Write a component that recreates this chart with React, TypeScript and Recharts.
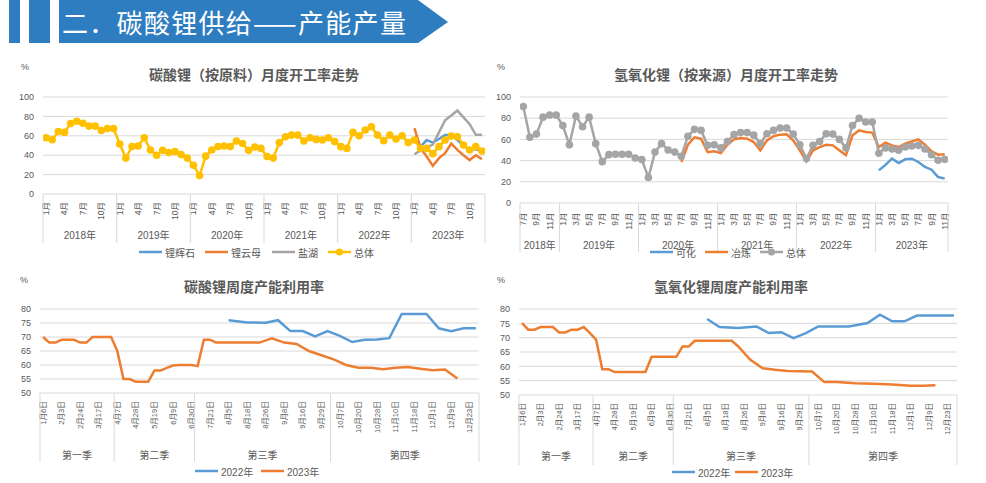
import React from 'react';
import { LineChart, Line, XAxis, YAxis, CartesianGrid } from 'recharts';

const _ = null;
const FONT = "'Liberation Sans', 'Noto Sans CJK SC', sans-serif";
const TXT = '#595959';
const GRID = '#D9D9D9';
const BLUE = '#5B9BD5';
const ORANGE = '#ED7D31';
const GRAY = '#A5A5A5';
const YELLOW = '#FFC000';

// ---------- 碳酸锂（按原料）月度开工率走势, 2018-01 .. 2023-12
const C1_YEARS = ['2018年', '2019年', '2020年', '2021年', '2022年', '2023年'];
const C1_YEAR_MONTHS = [12, 12, 12, 12, 12, 12];
const C1_MONTH_LABELS = ['1月', '4月', '7月', '10月'];
const C1_SERIES = ['锂辉石', '锂云母', '盐湖', '总体'];
const C1_TOTAL = [
  58, 56, 64.5, 63.5, 72.7, 75, 73, 70, 70, 65.5, 67.5, 67.5,
  51.5, 37, 49, 49.5, 58, 45.4, 40, 45, 42.7, 43.7, 40.6, 37,
  29.7, 19, 39, 45.4, 49, 49.5, 49, 54.6, 52, 45, 48.5, 47,
  38.6, 37, 53, 59, 60.7, 60.7, 54.6, 58, 56.3, 55.6, 58, 54,
  48.8, 47, 63.5, 60, 66, 69.3, 60.7, 55, 60.7, 56.7, 60, 53,
  55.6, 47, 47, 41.6, 48.8, 55.6, 59.7, 59, 50.5, 45.4, 48.8, 44.4,
];
const C1_SPOD_2023 = [59, 48.8, 55.6, 53, 56.7, 60.7, 60.7, 55.6, 50, 45.4, 46.4, 43.7];
const C1_LEPI_2023 = [68, 47.5, 38.6, 29, 37, 42, 52, 45.4, 40, 35, 40, 36];
const C1_SALT_2023 = [41, 45, 48, 51, 63.5, 76, 81, 86, 79, 72, 61, 61];

// ---------- 氢氧化锂（按来源）月度开工率走势, 2018-07 .. 2023-11
const C2_YEARS = ['2018年', '2019年', '2020年', '2021年', '2022年', '2023年'];
const C2_YEAR_MONTHS = [6, 12, 12, 12, 12, 11];
const C2_MONTH_LABELS = ['1月', '3月', '5月', '7月', '9月', '11月'];
const C2_SERIES = ['可化', '冶炼', '总体'];
const C2_TOTAL = [
  91, 62, 65, 81, 83, 83,
  73, 55, 82, 72, 81, 56, 39, 45.6, 46, 46, 46, 42.5,
  41, 24, 48, 56, 50, 48, 44, 63, 69.5, 68.5, 54.4, 55,
  52, 58, 64.5, 66.4, 66.4, 64, 56, 65.4, 68.5, 70.7, 70.7, 65,
  55, 42, 54.4, 58, 65.4, 65, 60, 52, 73, 80, 76.4, 76.4,
  47, 52, 51, 49.7, 52.8, 53.8, 54.4, 51, 45.6, 40.3, 41.2,
];
const C2_SMELT_FROM_2020_07 = [
  38.7, 55, 62, 60.7, 48, 48.7,
  47, 55, 60, 61.3, 60.7, 57.5, 49.7, 59, 63, 64.5, 64.8, 59,
  49.7, 39.3, 49.7, 52.8, 55, 54.4, 49.7, 45, 63.8, 68.5, 67, 66.4,
  52.8, 57, 54.4, 52.8, 56, 58, 60, 55, 48.7, 45.6, 46,
];
const C2_CHEM_2023 = [30.8, 36, 41.8, 37.7, 41.2, 41.8, 38.7, 34, 31.4, 24.5, 23];

// ---------- weekly charts (71 weekly categories, labels on every third)
const WEEK_LABELS = [
  '1月6日', '2月3日', '2月24日', '3月17日', '4月7日', '4月28日', '5月19日', '6月9日',
  '6月30日', '7月21日', '8月5日', '8月18日', '8月26日', '9月8日', '9月16日', '9月29日',
  '10月7日', '10月20日', '10月28日', '11月10日', '11月18日', '12月1日', '12月9日', '12月23日',
];
const QUARTERS = ['第一季', '第二季', '第三季', '第四季'];
const QUARTER_WEEKS = [12, 13, 22, 24];
const WEEK_SERIES = ['2022年', '2023年'];

// 碳酸锂周度产能利用率
const C3_2023 = [
  70, 68, 68, 69, 69, 69, 68, 68, 70, 70,
  70, 70, 65, 55, 55, 54, 54, 54, 58, 58,
  59, 59.8, 60, 60, 60, 59.6, 69, 69, 68, _,
  _, _, _, _, _, 68, _, 69.5, _, 68,
  _, 67.5, _, 65, _, 63.5, _, 62, _, 60,
  _, 59, _, 59, _, 58.5, _, 59, _, 59.3,
  _, 58.7, _, 58.1, _, 58.4, _, 55.2, _, _,
  _,
];
const C3_2022 = [
  _, _, _, _, _, _, _, _, _, _,
  _, _, _, _, _, _, _, _, _, _,
  _, _, _, _, _, _, _, _, _, _,
  76, _, _, 75.2, _, _, 75.1, _, 76, _,
  72.1, _, 72.1, _, 70.2, _, 72.1, _, 70.4, _,
  68.2, _, 69, _, 69.1, _, 69.6, _, 78.2, _,
  78.2, _, 78.2, _, 73.1, _, 72.1, _, 73.1, _,
  73.1,
];

// 氢氧化锂周度产能利用率
const C4_2023 = [
  75.1, 72.8, 72.8, 73.7, 73.7, 73.7, 71.8, 71.8, 72.8, 72.8,
  73.7, 71.6, 69.3, 59, 59, 58, 58, 58, 58, 58,
  58, 63.3, 63.3, 63.3, 63.3, 63.3, 66.9, 66.9, 68.9, _,
  _, _, _, _, 68.9, 67, _, 62.3, _, 59.3,
  _, 58.8, _, 58.4, _, _, _, 58.2, _, 54.5,
  _, 54.5, _, _, 54.1, _, _, 53.9, _, _,
  53.7, _, _, 53.2, _, 53.2, _, 53.4, _, _,
  _,
];
const C4_2022 = [
  _, _, _, _, _, _, _, _, _, _,
  _, _, _, _, _, _, _, _, _, _,
  _, _, _, _, _, _, _, _, _, _,
  76.5, _, 73.7, _, _, 73.4, _, _, 73.9, _,
  71.6, _, 71.9, _, 69.8, _, 71.6, _, 73.9, _,
  73.9, _, _, 73.9, _, _, 75.1, _, 78, _,
  75.7, _, 75.7, _, 77.7, _, 77.7, _, 77.7, _,
  77.7,
];

// ---------- helpers
function groups(spans: number[]) {
  const bounds = [-0.5];
  const centers: number[] = [];
  let s = 0;
  spans.forEach((n) => {
    centers.push(s + n / 2 - 0.5);
    s += n;
    bounds.push(s - 0.5);
  });
  return { bounds, centers, total: s };
}

function rotTick(labelOf: (v: number) => string, top: number, fs: number) {
  return (props: any) => {
    const { x, payload } = props;
    return (
      <text x={x} y={top} transform={`rotate(-90 ${x} ${top})`} textAnchor="end" dy="0.35em"
        fontSize={fs} fill={TXT} fontFamily={FONT}>
        {labelOf(payload.value)}
      </text>
    );
  };
}

function groupTick(g: { bounds: number[]; centers: number[] }, labels: string[], bottom: number, sepLen: number, textDy: number) {
  return (props: any) => {
    const { x, payload } = props;
    const v = payload.value;
    if (g.bounds.includes(v)) {
      return <line x1={x} x2={x} y1={bottom} y2={bottom + sepLen} stroke={GRID} strokeWidth={1} />;
    }
    const ci = g.centers.indexOf(v);
    return (
      <text x={x} y={bottom + textDy} textAnchor="middle" fontSize={10} fill={TXT} fontFamily={FONT}>
        {ci >= 0 ? labels[ci] : ''}
      </text>
    );
  };
}

function LegendItem({ left, top, color, label, dot }: { left: number; top: number; color: string; label: string; dot?: boolean }) {
  return (
    <div style={{ position: 'absolute', left, top: top - 7, height: 14, display: 'flex', alignItems: 'center', fontSize: 10, color: TXT, fontFamily: FONT, whiteSpace: 'nowrap' }}>
      <svg width={24} height={14} style={{ display: 'block' }}>
        <line x1={0} x2={23} y1={7} y2={7} stroke={color} strokeWidth={2.5} />
        {dot && <circle cx={11.5} cy={7} r={3.5} fill={color} />}
      </svg>
      <span style={{ marginLeft: 2 }}>{label}</span>
    </div>
  );
}

function Title({ cx, cy, text }: { cx: number; cy: number; text: string }) {
  return (
    <div style={{ position: 'absolute', left: cx - 150, top: cy - 10, width: 300, height: 20, lineHeight: '20px', textAlign: 'center', fontSize: 14, fontWeight: 'bold', color: TXT, fontFamily: FONT }}>
      {text}
    </div>
  );
}

function Pct({ left, top }: { left: number; top: number }) {
  return <div style={{ position: 'absolute', left, top, fontSize: 9, color: TXT, fontFamily: FONT, lineHeight: '10px' }}>%</div>;
}

const yTick = { fontSize: 9, fill: TXT, fontFamily: FONT };

// ---------- chart 1
function Chart1() {
  const g = groups(C1_YEAR_MONTHS);
  const rows = C1_TOTAL.map((v, i) => ({
    i,
    spod: i >= 60 ? C1_SPOD_2023[i - 60] : null,
    lepi: i >= 60 ? C1_LEPI_2023[i - 60] : null,
    salt: i >= 60 ? C1_SALT_2023[i - 60] : null,
    total: v,
  }));
  const monthTicks = rows.filter((r) => r.i % 3 === 0).map((r) => r.i);
  const bottom = 139;
  return (
    <LineChart width={490} height={215} data={rows} margin={{ top: 42, right: 5, left: 0, bottom: 0 }}>
      <CartesianGrid xAxisId="m" vertical={false} stroke={GRID} />
      <XAxis xAxisId="m" type="number" dataKey="i" domain={[-0.5, g.total - 0.5]} allowDataOverflow ticks={monthTicks} interval={0}
        height={36} axisLine={false} tickLine={false} tickSize={0} tickMargin={0}
        tick={rotTick((v) => C1_MONTH_LABELS[(v % 12) / 3], bottom + 8, 8.5)} />
      <XAxis xAxisId="g" type="number" dataKey="i" domain={[-0.5, g.total - 0.5]} allowDataOverflow ticks={[...g.bounds, ...g.centers]} interval={0}
        height={40} axisLine={false} tickLine={false} tickSize={0} tickMargin={0}
        tick={groupTick(g, C1_YEARS, bottom, 49, 44.5)} />
      <YAxis domain={[0, 100]} ticks={[0, 20, 40, 60, 80, 100]} interval={0} width={43} axisLine={false} tickLine={false} tickSize={0} tickMargin={9} tick={yTick} />
      <Line xAxisId="m" dataKey="spod" stroke={BLUE} strokeWidth={2.5} dot={false} isAnimationActive={false} />
      <Line xAxisId="m" dataKey="lepi" stroke={ORANGE} strokeWidth={2.5} dot={false} isAnimationActive={false} />
      <Line xAxisId="m" dataKey="salt" stroke={GRAY} strokeWidth={2.5} dot={false} isAnimationActive={false} />
      <Line xAxisId="m" dataKey="total" stroke={YELLOW} strokeWidth={2.5} dot={{ r: 3.8, fill: YELLOW, stroke: YELLOW, strokeWidth: 0 }} isAnimationActive={false} />
    </LineChart>
  );
}

// ---------- chart 2
function Chart2() {
  const g = groups(C2_YEAR_MONTHS);
  const rows = C2_TOTAL.map((v, i) => ({
    i,
    chem: i >= 54 ? C2_CHEM_2023[i - 54] : null,
    smelt: i >= 24 ? C2_SMELT_FROM_2020_07[i - 24] : null,
    total: v,
  }));
  // first category is July, labels on odd months
  const monthTicks = rows.filter((r) => r.i % 2 === 0).map((r) => r.i);
  const bottom = 148;
  return (
    <LineChart width={496} height={215} data={rows} margin={{ top: 42, right: 38, left: 0, bottom: 0 }}>
      <CartesianGrid xAxisId="m" vertical={false} stroke={GRID} />
      <XAxis xAxisId="m" type="number" dataKey="i" domain={[-0.5, g.total - 0.5]} allowDataOverflow ticks={monthTicks} interval={0}
        height={30} axisLine={false} tickLine={false} tickSize={0} tickMargin={0}
        tick={rotTick((v) => C2_MONTH_LABELS[((6 + v) % 12) / 2], bottom + 9.4, 8.5)} />
      <XAxis xAxisId="g" type="number" dataKey="i" domain={[-0.5, g.total - 0.5]} allowDataOverflow ticks={[...g.bounds, ...g.centers]} interval={0}
        height={37} axisLine={false} tickLine={false} tickSize={0} tickMargin={0}
        tick={groupTick(g, C2_YEARS, bottom, 49, 45.5)} />
      <YAxis domain={[0, 100]} ticks={[0, 20, 40, 60, 80, 100]} interval={0} width={30} axisLine={false} tickLine={false} tickSize={0} tickMargin={9} tick={yTick} />
      <Line xAxisId="m" dataKey="chem" stroke={BLUE} strokeWidth={2.5} dot={false} isAnimationActive={false} />
      <Line xAxisId="m" dataKey="smelt" stroke={ORANGE} strokeWidth={2.5} dot={false} isAnimationActive={false} />
      <Line xAxisId="m" dataKey="total" stroke={GRAY} strokeWidth={2.5} dot={{ r: 3.8, fill: GRAY, stroke: GRAY, strokeWidth: 0 }} isAnimationActive={false} />
    </LineChart>
  );
}

// ---------- weekly charts
function WeekChart({ a, b, width, rightM, yW, bottom, labelTop, sepLen, textDy }: {
  a: (number | null)[]; b: (number | null)[]; width: number; rightM: number; yW: number; bottom: number; labelTop: number; sepLen: number; textDy: number;
}) {
  const g = groups(QUARTER_WEEKS);
  const rows = a.map((v, i) => ({ i, y2022: v, y2023: b[i] }));
  const weekTicks = WEEK_LABELS.map((_l, k) => k * 3);
  const h1 = 44;
  const h2 = 213 - bottom - h1;
  return (
    <LineChart width={width} height={213} data={rows} margin={{ top: 39, right: rightM, left: 0, bottom: 0 }}>
      <CartesianGrid xAxisId="m" vertical={false} stroke={GRID} />
      <XAxis xAxisId="m" type="number" dataKey="i" domain={[-0.5, g.total - 0.5]} allowDataOverflow ticks={weekTicks} interval={0}
        height={h1} axisLine={false} tickLine={false} tickSize={0} tickMargin={0}
        tick={rotTick((v) => WEEK_LABELS[v / 3], bottom + labelTop, 7.5)} />
      <XAxis xAxisId="g" type="number" dataKey="i" domain={[-0.5, g.total - 0.5]} allowDataOverflow ticks={[...g.bounds, ...g.centers]} interval={0}
        height={h2} axisLine={false} tickLine={false} tickSize={0} tickMargin={0}
        tick={groupTick(g, QUARTERS, bottom, sepLen, textDy)} />
      <YAxis domain={[50, 80]} ticks={[50, 55, 60, 65, 70, 75, 80]} interval={0} width={yW} axisLine={false} tickLine={false} tickSize={0} tickMargin={9} tick={yTick} />
      <Line xAxisId="m" dataKey="y2022" stroke={BLUE} strokeWidth={2.5} dot={false} connectNulls isAnimationActive={false} />
      <Line xAxisId="m" dataKey="y2023" stroke={ORANGE} strokeWidth={2.5} dot={false} connectNulls isAnimationActive={false} />
    </LineChart>
  );
}

function Header() {
  return (
    <div style={{ position: 'absolute', left: 0, top: 0, width: 460, height: 44 }}>
      <svg width={460} height={44} style={{ position: 'absolute', left: 0, top: 0 }}>
        <rect x={9} y={0} width={11} height={43} fill="#2E7DC1" />
        <rect x={29} y={0} width={21} height={43} fill="#2E7DC1" />
        <polygon points="59,0 418,0 448,22 418,43 59,43" fill="#2E7DC1" />
      </svg>
      <div style={{ position: 'absolute', left: 62, top: 0, height: 43, lineHeight: '43px', fontSize: 26, letterSpacing: 1.3, color: '#fff', fontFamily: "'Noto Sans CJK SC', sans-serif", whiteSpace: 'nowrap' }}>
        二．碳酸锂供给——产能产量
      </div>
    </div>
  );
}

export default function App() {
  return (
    <div style={{ position: 'absolute', left: 0, top: 0, width: 986, height: 483, background: '#fff', overflow: 'hidden', fontFamily: FONT }}>
      <Header />

      <div style={{ position: 'absolute', left: 0, top: 55 }}><Chart1 /></div>
      <div style={{ position: 'absolute', left: 490, top: 55 }}><Chart2 /></div>
      <div style={{ position: 'absolute', left: 0, top: 270 }}>
        <WeekChart a={C3_2022} b={C3_2023} width={490} rightM={11} yW={40} bottom={123} labelTop={8.3} sepLen={69} textDy={65.5} />
      </div>
      <div style={{ position: 'absolute', left: 490, top: 270 }}>
        <WeekChart a={C4_2022} b={C4_2023} width={496} rightM={29} yW={29} bottom={125} labelTop={8} sepLen={70} textDy={65} />
      </div>

      <Pct left={21} top={62} />
      <Pct left={497} top={62} />
      <Pct left={20} top={275} />
      <Pct left={497} top={275} />

      <Title cx={254} cy={75} text="碳酸锂（按原料）月度开工率走势" />
      <Title cx={726} cy={75} text="氢氧化锂（按来源）月度开工率走势" />
      <Title cx={254} cy={287} text="碳酸锂周度产能利用率" />
      <Title cx={731} cy={287} text="氢氧化锂周度产能利用率" />

      <LegendItem left={139} top={252} color={BLUE} label={C1_SERIES[0]} />
      <LegendItem left={205} top={252} color={ORANGE} label={C1_SERIES[1]} />
      <LegendItem left={272} top={252} color={GRAY} label={C1_SERIES[2]} />
      <LegendItem left={328} top={252} color={YELLOW} label={C1_SERIES[3]} dot />

      <LegendItem left={650} top={252} color={BLUE} label={C2_SERIES[0]} />
      <LegendItem left={705} top={252} color={ORANGE} label={C2_SERIES[1]} />
      <LegendItem left={760} top={252} color={GRAY} label={C2_SERIES[2]} dot />

      <LegendItem left={195} top={471} color={BLUE} label={WEEK_SERIES[0]} />
      <LegendItem left={261} top={471} color={ORANGE} label={WEEK_SERIES[1]} />

      <LegendItem left={672} top={472} color={BLUE} label={WEEK_SERIES[0]} />
      <LegendItem left={735} top={472} color={ORANGE} label={WEEK_SERIES[1]} />
    </div>
  );
}
